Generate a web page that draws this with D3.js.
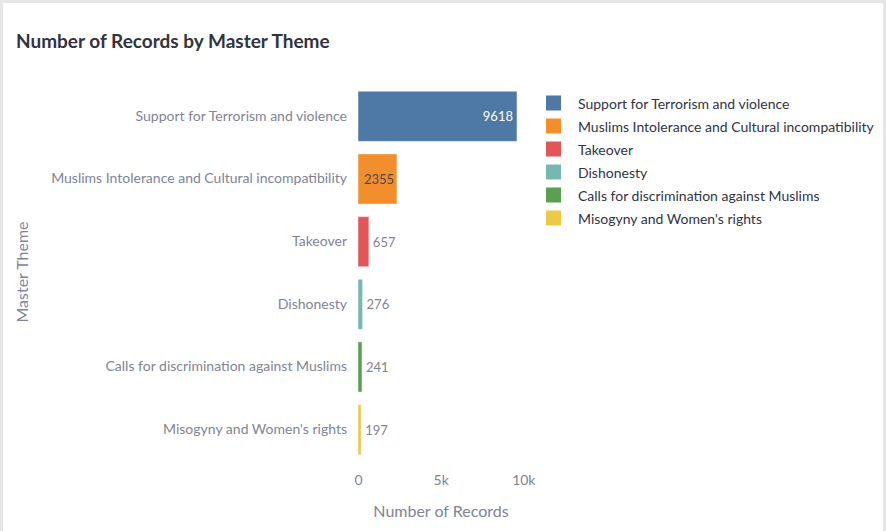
<!DOCTYPE html>
<html>
<head>
<meta charset="utf-8">
<script src="https://cdn.jsdelivr.net/npm/d3@7"></script>
<style>
  html, body { margin: 0; padding: 0; background: #e6e6e6; }
  .card { position: absolute; left: 3px; top: 3px; width: 880px; height: 528px; background: #fff; }
  svg { display: block; font-family: Lato, "Noto Sans", sans-serif; }
</style>
</head>
<body>
<div class="card"><svg id="chart"></svg></div>
<script>
const themes = [
  'Support for Terrorism and violence',
  'Muslims Intolerance and Cultural incompatibility',
  'Takeover',
  'Dishonesty',
  'Calls for discrimination against Muslims',
  "Misogyny and Women's rights"
];
const records = [9618, 2355, 657, 276, 241, 197];
const colors = ['#4e79a7', '#f28e2b', '#e15759', '#76b7b2', '#59a14f', '#edc948'];
const xTicks = [0, 5000, 10000];
const xTickLabels = ['0', '5k', '10k'];

const w = 880, h = 528;
const ox = -3, oy = -3; // card offset
const grey = '#808495';
const font = 'Lato, "Noto Sans", sans-serif';

const svg = d3.select('#chart').attr('width', w).attr('height', h);
const g = svg.append('g').attr('transform', 'translate(' + ox + ',' + oy + ')');

const data = themes.map(function(t, i) { return { theme: t, value: records[i], color: colors[i] }; });

const xScale = d3.scaleLinear().domain([0, 10000]).range([358, 523.3]);
const yScale = d3.scaleBand().domain(themes).range([85, 461]).paddingInner(0.2).paddingOuter(0.1);
const colorScale = d3.scaleOrdinal().domain(themes).range(colors);

// title
g.append('text')
  .attr('x', 16).attr('y', 48)
  .attr('font-size', 19).attr('font-weight', 'bold')
  .attr('fill', '#31333f')
  .text('Number of Records by Master Theme');

// bars
g.selectAll('rect.bar')
  .data(data)
  .enter()
  .append('rect')
    .attr('class', 'bar')
    .attr('x', xScale(0))
    .attr('y', function(d) { return yScale(d.theme); })
    .attr('width', function(d) { return xScale(d.value) - xScale(0); })
    .attr('height', yScale.bandwidth())
    .attr('fill', function(d) { return colorScale(d.theme); })
    .attr('stroke', '#fff')
    .attr('stroke-opacity', 0.45);

// value labels
g.selectAll('text.val')
  .data(data)
  .enter()
  .append('text')
    .attr('class', 'val')
    .attr('font-size', 13)
    .attr('dominant-baseline', 'central')
    .attr('y', function(d) { return yScale(d.theme) + yScale.bandwidth() / 2; })
    .attr('x', function(d) {
      const bw = xScale(d.value) - xScale(0);
      if (d.value > 5000) return xScale(d.value) - 4;
      if (bw > 30) return xScale(0) + 6;
      return xScale(d.value) + 4;
    })
    .attr('text-anchor', function(d) { return d.value > 5000 ? 'end' : 'start'; })
    .attr('fill', function(d) {
      const bw = xScale(d.value) - xScale(0);
      if (d.value > 5000) return '#fff';
      if (bw > 30) return '#4a4a55';
      return grey;
    })
    .text(function(d) { return d.value; });

// y axis
const yAxis = g.append('g')
  .attr('transform', 'translate(' + (xScale(0) - 11) + ',0)')
  .call(d3.axisLeft(yScale).tickSize(0).tickPadding(0));
yAxis.attr('font-family', font);
yAxis.select('.domain').remove();
yAxis.selectAll('text').attr('fill', grey).attr('font-size', 14);

// x axis
const xAxis = g.append('g')
  .attr('transform', 'translate(0,475)')
  .call(d3.axisBottom(xScale).tickValues(xTicks).tickFormat(function(d, i) { return xTickLabels[i]; }).tickSize(0).tickPadding(0));
xAxis.attr('font-family', font);
xAxis.select('.domain').remove();
xAxis.selectAll('text').attr('fill', grey).attr('font-size', 14);

// axis titles
g.append('text')
  .attr('x', 441).attr('y', 517)
  .attr('text-anchor', 'middle')
  .attr('font-size', 16).attr('fill', grey)
  .text('Number of Records');

g.append('text')
  .attr('transform', 'translate(28,272) rotate(-90)')
  .attr('text-anchor', 'middle')
  .attr('font-size', 16).attr('fill', grey)
  .text('Master Theme');

// legend
const legend = g.selectAll('g.legend')
  .data(themes)
  .enter()
  .append('g')
    .attr('class', 'legend')
    .attr('transform', function(d, i) { return 'translate(546,' + (103 + i * 23) + ')'; });

legend.append('rect')
  .attr('x', 0).attr('y', -7.5)
  .attr('width', 15).attr('height', 15)
  .attr('fill', function(d) { return colorScale(d); });

legend.append('text')
  .attr('x', 32).attr('y', 0)
  .attr('dominant-baseline', 'central')
  .attr('font-size', 14).attr('fill', '#31333f')
  .text(function(d) { return d; });
</script>
</body>
</html>
